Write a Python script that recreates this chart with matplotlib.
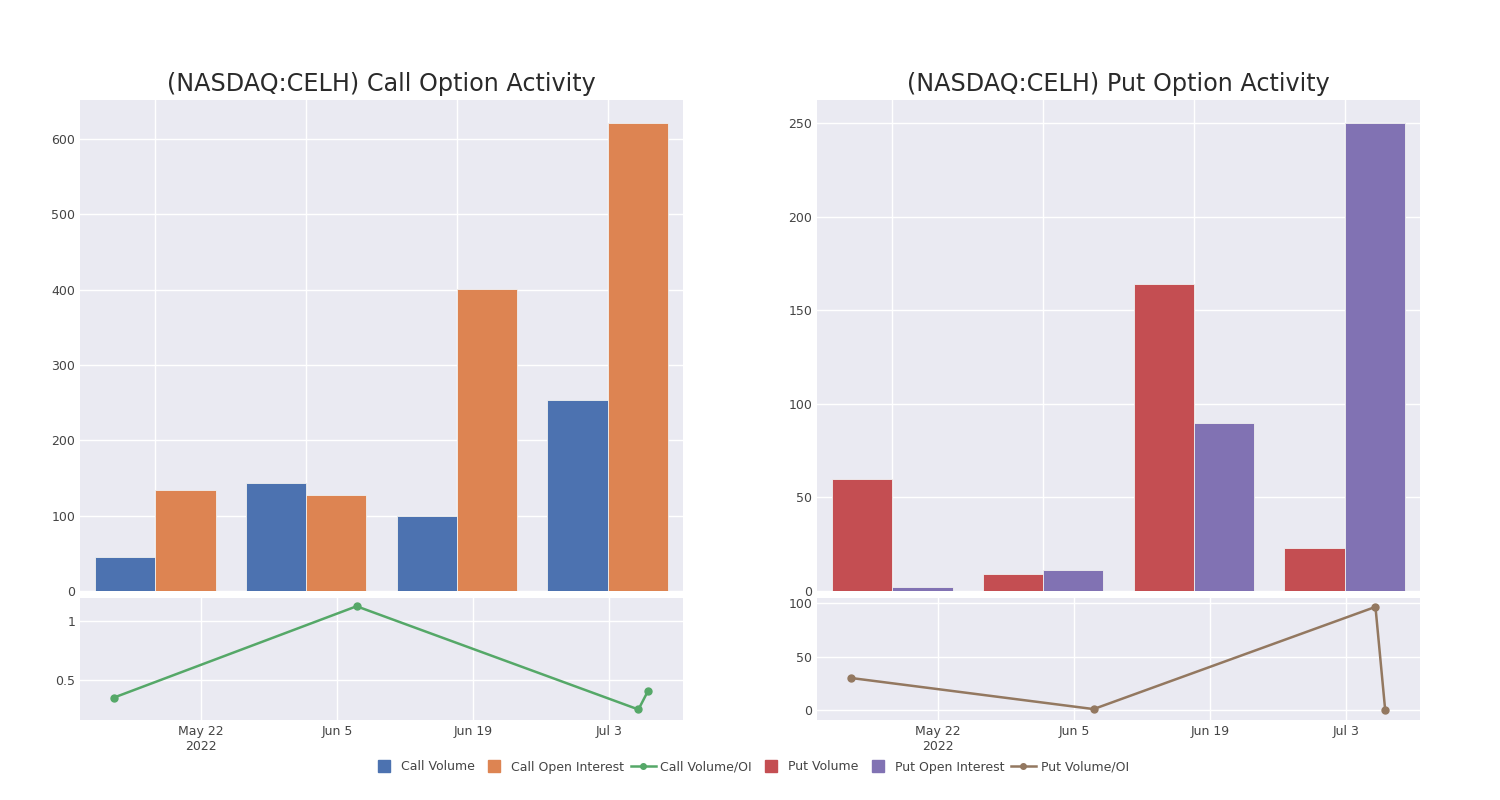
import numpy as np
import pandas as pd
import matplotlib
matplotlib.use("Agg")
import matplotlib.pyplot as plt
import matplotlib.dates as mdates
from matplotlib.lines import Line2D

# bar data (4 expiry groups)
call_volume = [45, 143, 99, 254]
call_oi = [134, 127, 401, 621]
put_volume = [60, 9, 164, 23]
put_oi = [2, 11, 90, 250]

# volume / OI line data
call_dates = pd.to_datetime(["2022-05-13", "2022-06-07", "2022-07-06", "2022-07-07"])
call_ratio = [0.35, 1.125, 0.25, 0.41]
put_dates = pd.to_datetime(["2022-05-13", "2022-06-07", "2022-07-06", "2022-07-07"])
put_ratio = [30, 0.9, 96.4, 0.09]

tick_dates = pd.to_datetime(["2022-05-22", "2022-06-05", "2022-06-19", "2022-07-03"])
tick_labels = ["May 22\n2022", "Jun 5", "Jun 19", "Jul 3"]

BG = "#EAEAF2"
TXT = "#444444"
c_blue, c_orange, c_green = "#4C72B0", "#DD8452", "#55A868"
c_red, c_purple, c_brown = "#C44E52", "#8172B3", "#937860"

fig = plt.figure(figsize=(15, 8), dpi=100)
W, H = 1500.0, 800.0

def box(x0, x1, y0, y1):
    return [x0 / W, 1 - y1 / H, (x1 - x0) / W, (y1 - y0) / H]

def style(ax):
    ax.set_facecolor(BG)
    for s in ax.spines.values():
        s.set_visible(False)
    ax.tick_params(length=0, labelsize=9, colors=TXT)
    ax.grid(True, color="white", linewidth=1)
    ax.set_axisbelow(True)

def bars(ax, v1, v2, col1, col2):
    x = np.arange(len(v1))
    ax.bar(x - 0.2, v1, width=0.4, color=col1, edgecolor="#f0f0f0", linewidth=0.6)
    ax.bar(x + 0.2, v2, width=0.4, color=col2, edgecolor="#f0f0f0", linewidth=0.6)
    ax.set_xlim(-0.5, 3.5)
    ax.set_ylim(0, max(max(v1), max(v2)) * 1.05)
    ax.set_xticks(x)
    ax.set_xticklabels([])

def line(ax, d, v, col, ylim):
    ax.plot(d, v, color=col, linewidth=1.8, marker="o", markersize=5)
    ax.set_xlim(pd.Timestamp("2022-05-09 13:00"), pd.Timestamp("2022-07-10 14:00"))
    ax.set_ylim(*ylim)
    ax.set_xticks(tick_dates)
    ax.set_xticklabels(tick_labels)

ax1 = fig.add_axes(box(80, 683, 100, 591))
style(ax1)
bars(ax1, call_volume, call_oi, c_blue, c_orange)
ax1.set_yticks([0, 100, 200, 300, 400, 500, 600])

ax2 = fig.add_axes(box(80, 683, 598, 720))
style(ax2)
line(ax2, call_dates, call_ratio, c_green, (0.161, 1.195))
ax2.set_yticks([0.5, 1])
ax2.set_yticklabels(["0.5", "1"])

ax3 = fig.add_axes(box(817, 1420, 100, 591))
style(ax3)
bars(ax3, put_volume, put_oi, c_red, c_purple)
ax3.set_yticks([0, 50, 100, 150, 200, 250])

ax4 = fig.add_axes(box(817, 1420, 598, 720))
style(ax4)
line(ax4, put_dates, put_ratio, c_brown, (-9.3, 104.7))
ax4.set_yticks([0, 50, 100])

fig.text((80 + 683) / 2 / W, 1 - 84 / H, "(NASDAQ:CELH) Call Option Activity",
         ha="center", va="center", fontsize=17.2, color="#2a2a2a")
fig.text((817 + 1420) / 2 / W, 1 - 84 / H, "(NASDAQ:CELH) Put Option Activity",
         ha="center", va="center", fontsize=17.2, color="#2a2a2a")

handles = [
    Line2D([], [], linestyle="none", marker="s", markersize=9, color=c_blue),
    Line2D([], [], linestyle="none", marker="s", markersize=9, color=c_orange),
    Line2D([], [], color=c_green, linewidth=1.8, marker="o", markersize=4),
    Line2D([], [], linestyle="none", marker="s", markersize=9, color=c_red),
    Line2D([], [], linestyle="none", marker="s", markersize=9, color=c_purple),
    Line2D([], [], color=c_brown, linewidth=1.8, marker="o", markersize=4),
]
labels = ["Call Volume", "Call Open Interest", "Call Volume/OI",
          "Put Volume", "Put Open Interest", "Put Volume/OI"]
leg = fig.legend(handles, labels, loc="center", bbox_to_anchor=(0.5, 1 - 767 / H),
                 ncol=6, frameon=False, fontsize=9, handlelength=2.0,
                 columnspacing=0.5, handletextpad=0.4)
for t in leg.get_texts():
    t.set_color(TXT)

fig.savefig("out.png", dpi=100, facecolor="white")
